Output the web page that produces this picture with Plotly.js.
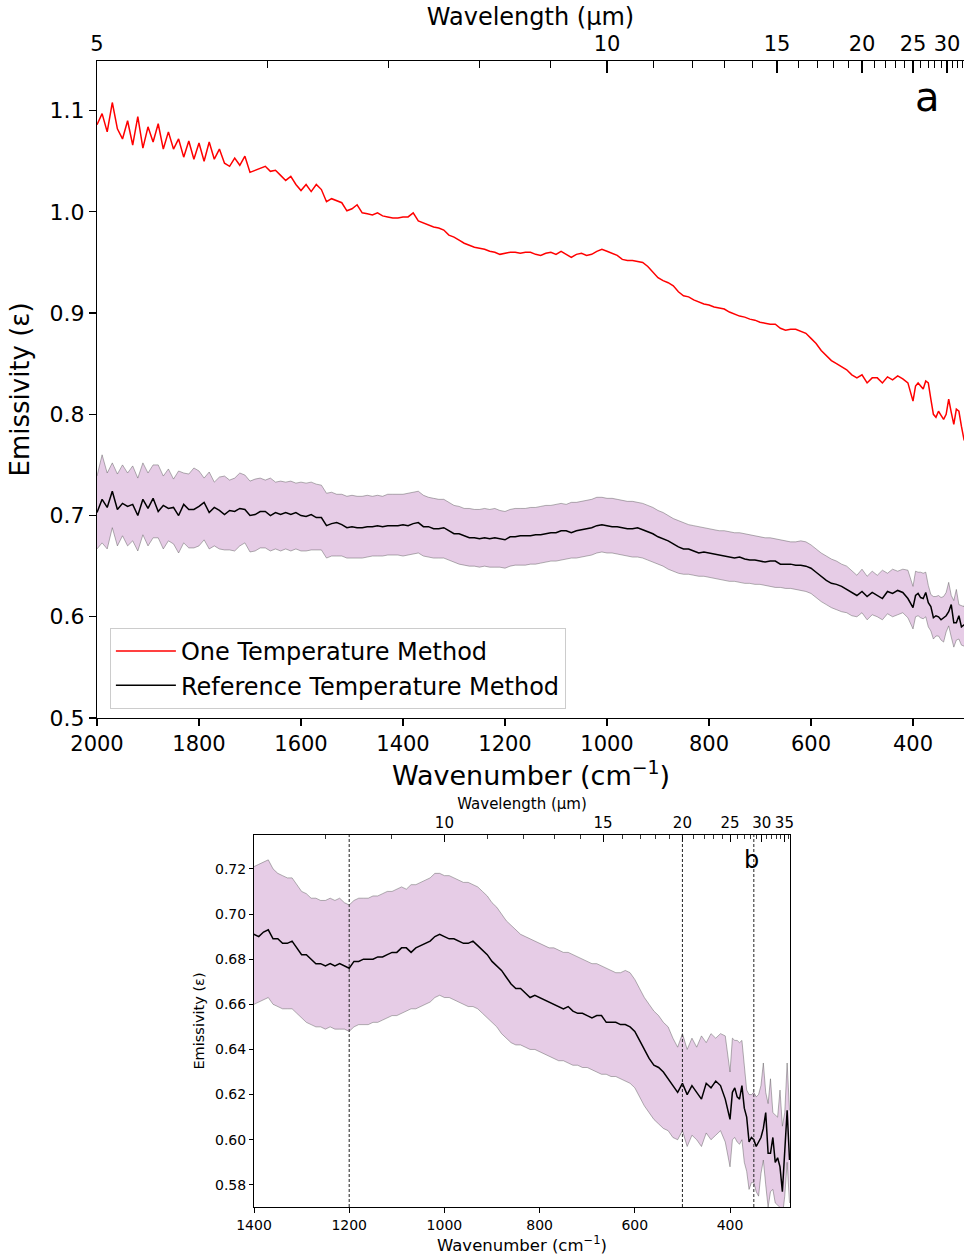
<!DOCTYPE html>
<html>
<head>
<meta charset="utf-8">
<script src="https://cdn.plot.ly/plotly-3.0.1.min.js"></script>
<style>html,body{margin:0;padding:0;background:#fff;}#chart{width:964px;height:1255px;}</style>
</head>
<body>
<div id="chart"></div>
<script>
// ---- data ----
const wavenumber = [
 2000,1990,1980,1970,1960,1950,1940,1930,1920,1910,
 1900,1890,1880,1870,1860,1850,1840,1830,1820,1810,
 1800,1790,1780,1770,1760,1750,1740,1730,1720,1710,
 1700,1690,1680,1670,1660,1650,1640,1630,1620,1610,
 1600,1590,1580,1570,1560,1550,1540,1530,1520,1510,
 1500,1490,1480,1470,1460,1450,1440,1430,1420,1410,
 1400,1390,1380,1370,1360,1350,1340,1330,1320,1310,
 1300,1290,1280,1270,1260,1250,1240,1230,1220,1210,
 1200,1190,1180,1170,1160,1150,1140,1130,1120,1110,
 1100,1090,1080,1070,1060,1050,1040,1030,1020,1010,
 1000,990,980,970,960,950,940,930,920,910,
 900,890,880,870,860,850,840,830,820,810,
 800,790,780,770,760,750,740,730,720,710,
 700,690,680,670,660,650,640,630,620,610,
 600,590,580,570,560,550,540,530,520,510,
 500,490,480,470,460,450,440,430,420,410,
 400,395,390,385,380,375,370,365,360,355,
 350,345,340,335,330,325,320,315,310,305,
 300,295,290,285,280,275
];
const oneTempMethod = [
 1.086,1.097,1.079,1.108,1.082,1.072,1.090,1.066,1.094,1.063,
 1.084,1.069,1.087,1.062,1.079,1.062,1.072,1.054,1.070,1.052,
 1.068,1.050,1.069,1.052,1.062,1.048,1.045,1.053,1.046,1.055,
 1.039,1.041,1.043,1.045,1.040,1.041,1.036,1.031,1.035,1.027,
 1.021,1.027,1.020,1.027,1.022,1.010,1.013,1.011,1.009,1.001,
 1.003,1.007,0.999,0.998,0.997,0.999,0.996,0.995,0.994,0.994,
 0.995,0.995,0.999,0.991,0.989,0.987,0.985,0.984,0.982,0.977,
 0.975,0.972,0.969,0.967,0.965,0.964,0.963,0.961,0.960,0.958,
 0.959,0.960,0.960,0.959,0.960,0.960,0.958,0.957,0.959,0.960,
 0.958,0.961,0.958,0.955,0.958,0.959,0.957,0.958,0.961,0.963,
 0.961,0.959,0.957,0.953,0.952,0.952,0.951,0.950,0.946,0.940,
 0.935,0.932,0.930,0.927,0.921,0.917,0.916,0.913,0.911,0.909,
 0.908,0.906,0.905,0.904,0.901,0.899,0.897,0.896,0.894,0.893,
 0.891,0.890,0.889,0.889,0.885,0.883,0.884,0.884,0.882,0.880,
 0.875,0.870,0.863,0.858,0.853,0.850,0.847,0.844,0.839,0.836,
 0.839,0.831,0.836,0.836,0.831,0.837,0.834,0.838,0.835,0.831,
 0.813,0.828,0.831,0.828,0.825,0.833,0.831,0.815,0.800,0.797,
 0.803,0.799,0.795,0.800,0.815,0.802,0.790,0.805,0.803,0.788,
 0.775,0.770,0.768,0.765,0.760,0.758
];
const refTempMethod = [
 0.703,0.716,0.708,0.724,0.706,0.712,0.709,0.711,0.700,0.716,
 0.707,0.717,0.704,0.710,0.707,0.708,0.700,0.711,0.706,0.706,
 0.709,0.713,0.703,0.708,0.705,0.701,0.705,0.704,0.707,0.706,
 0.700,0.701,0.704,0.704,0.700,0.703,0.701,0.703,0.701,0.703,
 0.700,0.699,0.701,0.698,0.698,0.690,0.692,0.693,0.691,0.688,
 0.689,0.688,0.688,0.689,0.689,0.690,0.689,0.690,0.690,0.690,
 0.691,0.690,0.692,0.693,0.689,0.689,0.687,0.687,0.688,0.685,
 0.682,0.682,0.680,0.678,0.678,0.677,0.678,0.677,0.678,0.677,
 0.676,0.679,0.679,0.680,0.680,0.680,0.681,0.681,0.682,0.683,
 0.683,0.685,0.685,0.683,0.685,0.686,0.687,0.688,0.690,0.691,
 0.690,0.689,0.689,0.688,0.687,0.687,0.688,0.686,0.684,0.682,
 0.679,0.677,0.675,0.672,0.669,0.667,0.667,0.665,0.663,0.664,
 0.663,0.662,0.661,0.660,0.659,0.658,0.659,0.657,0.656,0.656,
 0.655,0.654,0.655,0.655,0.652,0.652,0.652,0.651,0.651,0.650,
 0.648,0.644,0.640,0.636,0.633,0.632,0.630,0.627,0.624,0.621,
 0.625,0.620,0.624,0.621,0.618,0.625,0.623,0.626,0.624,0.618,
 0.609,0.621,0.623,0.619,0.618,0.624,0.614,0.610,0.599,0.601,
 0.600,0.597,0.599,0.601,0.605,0.612,0.594,0.594,0.601,0.590,
 0.592,0.588,0.577,0.596,0.613,0.591
];
const refUpper = [
 0.739,0.760,0.742,0.752,0.741,0.750,0.742,0.749,0.737,0.752,
 0.742,0.750,0.750,0.739,0.746,0.736,0.744,0.742,0.741,0.747,
 0.744,0.737,0.743,0.733,0.738,0.739,0.735,0.737,0.742,0.740,
 0.734,0.736,0.737,0.735,0.737,0.733,0.734,0.733,0.734,0.732,
 0.733,0.732,0.733,0.731,0.730,0.722,0.723,0.721,0.721,0.719,
 0.720,0.719,0.719,0.720,0.719,0.720,0.719,0.721,0.721,0.721,
 0.721,0.722,0.723,0.724,0.720,0.718,0.717,0.716,0.716,0.713,
 0.710,0.709,0.707,0.707,0.706,0.706,0.707,0.706,0.707,0.705,
 0.704,0.706,0.707,0.707,0.707,0.708,0.708,0.709,0.710,0.710,
 0.711,0.712,0.711,0.713,0.713,0.714,0.715,0.716,0.718,0.718,
 0.717,0.717,0.716,0.715,0.714,0.714,0.713,0.712,0.710,0.708,
 0.705,0.703,0.700,0.697,0.695,0.693,0.691,0.690,0.689,0.688,
 0.687,0.686,0.685,0.685,0.684,0.683,0.683,0.682,0.681,0.680,
 0.679,0.678,0.678,0.677,0.676,0.675,0.674,0.674,0.675,0.674,
 0.671,0.667,0.663,0.660,0.657,0.655,0.652,0.650,0.645,0.641,
 0.647,0.640,0.645,0.641,0.646,0.643,0.647,0.645,0.647,0.646,
 0.630,0.645,0.644,0.644,0.643,0.644,0.631,0.622,0.620,0.620,
 0.621,0.619,0.620,0.624,0.634,0.621,0.616,0.627,0.612,0.611,
 0.610,0.622,0.606,0.612,0.634,0.613
];
const refLower = [
 0.667,0.673,0.667,0.688,0.670,0.680,0.670,0.675,0.665,0.681,
 0.670,0.678,0.678,0.667,0.675,0.672,0.663,0.673,0.668,0.668,
 0.670,0.676,0.667,0.670,0.667,0.666,0.666,0.665,0.670,0.673,
 0.664,0.665,0.668,0.668,0.665,0.667,0.665,0.667,0.665,0.667,
 0.665,0.665,0.666,0.666,0.666,0.658,0.660,0.660,0.660,0.658,
 0.658,0.658,0.658,0.659,0.660,0.660,0.660,0.661,0.661,0.661,
 0.660,0.661,0.662,0.663,0.660,0.659,0.658,0.658,0.658,0.656,
 0.654,0.652,0.651,0.650,0.650,0.649,0.650,0.649,0.649,0.649,
 0.648,0.650,0.651,0.651,0.651,0.652,0.652,0.653,0.654,0.655,
 0.655,0.656,0.657,0.658,0.658,0.659,0.660,0.661,0.663,0.664,
 0.663,0.663,0.662,0.661,0.660,0.659,0.659,0.658,0.656,0.654,
 0.652,0.650,0.647,0.645,0.643,0.642,0.642,0.641,0.640,0.640,
 0.639,0.638,0.637,0.636,0.635,0.635,0.634,0.633,0.633,0.632,
 0.632,0.631,0.630,0.629,0.629,0.628,0.628,0.627,0.626,0.625,
 0.623,0.619,0.615,0.612,0.609,0.607,0.605,0.604,0.601,0.600,
 0.604,0.597,0.602,0.600,0.597,0.603,0.600,0.602,0.604,0.599,
 0.588,0.600,0.601,0.599,0.598,0.600,0.590,0.586,0.578,0.581,
 0.581,0.577,0.575,0.585,0.591,0.580,0.570,0.577,0.578,0.572,
 0.571,0.570,0.566,0.575,0.590,0.572
];
const wnTicksA = [2000,1800,1600,1400,1200,1000,800,600,400];
const wnTicksB = [1400,1200,1000,800,600,400];
const emisTicksA = [0.5,0.6,0.7,0.8,0.9,1.0,1.1];
const emisTicksB = [0.58,0.60,0.62,0.64,0.66,0.68,0.70,0.72];
const lambdaMajorA = [5,10,15,20,25,30];
const lambdaMinorA = [6,7,8,9,11,12,13,14,16,17,18,19,21,22,23,24,26,27,28,29,31,32,33];
const lambdaMajorB = [10,15,20,25,30,35];
const lambdaMinorB = [8,9,11,12,13,14,16,17,18,19,21,22,23,24,26,27,28,29,31,32,33,34,36];
const bandMarkers = [1200,500,350];
const seriesNames = ['One Temperature Method','Reference Temperature Method'];

// ---- helpers ----
const toWn = l => 10000 / l;
const FONT = 'DejaVu Sans, Arial, sans-serif';
const bandFill = 'rgba(128,0,128,0.2)';
const bandEdge = 'rgba(80,80,80,0.55)';

const traces = [
  {x: wavenumber, y: refUpper, xaxis:'x', yaxis:'y', mode:'lines', line:{color:bandEdge, width:0.8}, showlegend:false, hoverinfo:'skip'},
  {x: wavenumber, y: refLower, xaxis:'x', yaxis:'y', mode:'lines', line:{color:bandEdge, width:0.8}, fill:'tonexty', fillcolor:bandFill, showlegend:false, hoverinfo:'skip'},
  {x: wavenumber, y: oneTempMethod, xaxis:'x', yaxis:'y', mode:'lines', name: seriesNames[0], line:{color:'#ff0000', width:1.5}},
  {x: wavenumber, y: refTempMethod, xaxis:'x', yaxis:'y', mode:'lines', name: seriesNames[1], line:{color:'#000000', width:1.5}},
  {x: wavenumber, y: refUpper, xaxis:'x3', yaxis:'y2', mode:'lines', line:{color:bandEdge, width:0.8}, showlegend:false, hoverinfo:'skip'},
  {x: wavenumber, y: refLower, xaxis:'x3', yaxis:'y2', mode:'lines', line:{color:bandEdge, width:0.8}, fill:'tonexty', fillcolor:bandFill, showlegend:false, hoverinfo:'skip'},
  {x: wavenumber, y: refTempMethod, xaxis:'x3', yaxis:'y2', mode:'lines', line:{color:'#000000', width:1.5}, showlegend:false},
  // invisible carriers so that the top (wavelength) axes are built
  {x: wavenumber, y: refTempMethod, xaxis:'x2', yaxis:'y', mode:'lines', line:{width:0, color:'rgba(0,0,0,0)'}, showlegend:false, hoverinfo:'skip'},
  {x: wavenumber, y: refTempMethod, xaxis:'x4', yaxis:'y2', mode:'lines', line:{width:0, color:'rgba(0,0,0,0)'}, showlegend:false, hoverinfo:'skip'}
];

const rangeA = [2000, 300];
const rangeB = [1400, 274];

const baseAx = {showgrid:false, zeroline:false, showline:true, linecolor:'#000', linewidth:1.2, tickcolor:'#000', color:'#000'};

const layout = {
  width: 964, height: 1255,
  margin: {l:0, r:0, t:0, b:0},
  paper_bgcolor:'#fff', plot_bgcolor:'#fff',
  font: {family: FONT, color:'#000'},
  showlegend: true,
  legend: {x: 0.114, y: 0.4996, xanchor:'left', yanchor:'top', font:{size:24, family:FONT},
           traceorder:'normal', itemwidth:60,
           bgcolor:'rgba(255,255,255,0.85)', bordercolor:'#cccccc', borderwidth:1, tracegroupgap:0},
  xaxis: Object.assign({}, baseAx, {
    domain:[97/964, 1], anchor:'y', range: rangeA, autorange:false,
    tickmode:'array', tickvals: wnTicksA, ticktext: wnTicksA.map(String),
    ticks:'outside', ticklen:7, tickwidth:1.2, tickfont:{size:21}
  }),
  xaxis2: Object.assign({}, baseAx, {
    overlaying:'x', side:'top', anchor:'y', range: rangeA, autorange:false,
    tickmode:'array', tickvals: lambdaMajorA.map(toWn), ticktext: lambdaMajorA.map(String),
    ticks:'inside', ticklen:12, tickwidth:1.2, tickfont:{size:21},
    minor:{tickmode:'array', tickvals: lambdaMinorA.map(toWn), ticks:'inside', ticklen:7, tickwidth:1, tickcolor:'#000'},
    title:{text:'Wavelength (µm)', font:{size:24}, standoff:0}
  }),
  yaxis: Object.assign({}, baseAx, {
    domain:[1-718/1255, 1-61/1255], anchor:'x', range:[0.5, 1.149], autorange:false,
    tickmode:'array', tickvals: emisTicksA, ticktext: emisTicksA.map(v=>v.toFixed(1)),
    ticks:'outside', ticklen:7, tickwidth:1.2, tickfont:{size:22},
    title:{text:'Emissivity (ε)', font:{size:26}, standoff:12}
  }),
  xaxis3: Object.assign({}, baseAx, {
    domain:[254/964, 790/964], anchor:'y2', range: rangeB, autorange:false, linewidth:1,
    tickmode:'array', tickvals: wnTicksB, ticktext: wnTicksB.map(String),
    ticks:'outside', ticklen:5, tickwidth:1, tickfont:{size:14},
    title:{text:'Wavenumber (cm<sup>−1</sup>)', font:{size:16.5}, standoff:3}
  }),
  xaxis4: Object.assign({}, baseAx, {
    overlaying:'x3', side:'top', anchor:'y2', range: rangeB, autorange:false, linewidth:1,
    tickmode:'array', tickvals: lambdaMajorB.map(toWn), ticktext: lambdaMajorB.map(String),
    ticks:'inside', ticklen:7, tickwidth:1, tickfont:{size:15},
    minor:{tickmode:'array', tickvals: lambdaMinorB.map(toWn), ticks:'inside', ticklen:4, tickwidth:0.8, tickcolor:'#000'},
    title:{text:'Wavelength (µm)', font:{size:15}, standoff:0}
  }),
  yaxis2: Object.assign({}, baseAx, {
    domain:[1-1207/1255, 1-835/1255], anchor:'x3', range:[0.5702, 0.735], autorange:false, linewidth:1,
    mirror:true,
    tickmode:'array', tickvals: emisTicksB, ticktext: emisTicksB.map(v=>v.toFixed(2)),
    ticks:'outside', ticklen:4, tickwidth:1, tickfont:{size:14},
    title:{text:'Emissivity (ε)', font:{size:14.5}, standoff:6}
  }),
  shapes: bandMarkers.map(w => ({type:'line', xref:'x3', yref:'y2 domain', x0:w, x1:w, y0:0, y1:1,
    line:{color:'#222', width:1, dash:'3px,2px'}, layer:'above'})),
  annotations: [
    {text:'Wavenumber (cm<sup>−1</sup>)', xref:'paper', yref:'paper', x:(97+964)/2/964, y:1-754/1255, xanchor:'center', yanchor:'top', showarrow:false, font:{size:27, family:FONT, color:'#000'}},
    {text:'a', xref:'paper', yref:'paper', x:927/964, y:1-97/1255, xanchor:'center', yanchor:'middle', showarrow:false, font:{size:40, family:FONT, color:'#000'}},
    {text:'b', xref:'paper', yref:'paper', x:751/964, y:1-860/1255, xanchor:'center', yanchor:'middle', showarrow:false, font:{size:24, family:FONT, color:'#000'}}
  ]
};

Plotly.newPlot('chart', traces, layout, {staticPlot:true, displayModeBar:false});
</script>
</body>
</html>
